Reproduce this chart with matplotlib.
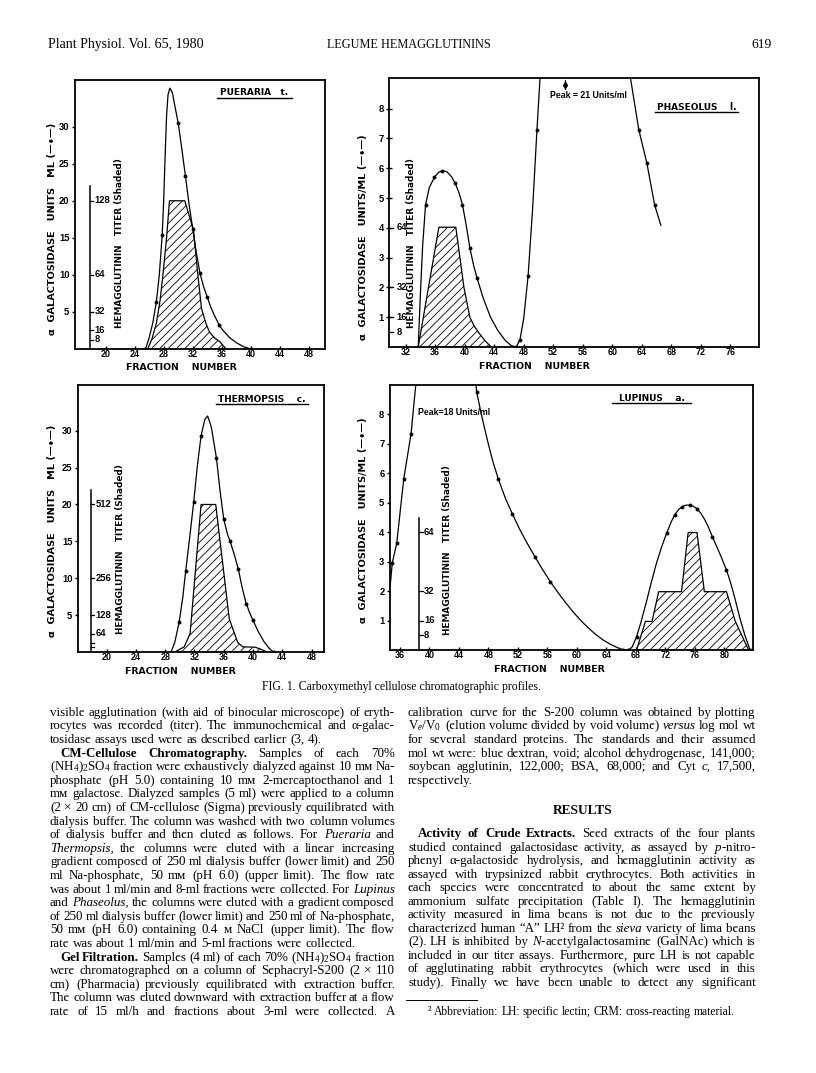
import matplotlib
matplotlib.use('Agg')
import matplotlib.pyplot as plt
from matplotlib.lines import Line2D
from matplotlib.transforms import IdentityTransform

W, H = 816, 1073

plt.rcParams['font.family'] = ['Liberation Sans', 'DejaVu Sans']
plt.rcParams['font.weight'] = 'bold'
plt.rcParams['text.hinting'] = 'native'
plt.rcParams['mathtext.fontset'] = 'custom'
plt.rcParams['mathtext.rm'] = 'Liberation Serif:weight=normal'
plt.rcParams['mathtext.it'] = 'Liberation Serif:style=italic:weight=normal'
plt.rcParams['mathtext.bf'] = 'Liberation Serif:weight=bold'
plt.rcParams['hatch.linewidth'] = 0.6

# ---------------- data ----------------
# Pueraria t.
pue_line_x = [25.5, 26.0, 26.5, 27.0, 27.4, 27.8, 28.0, 28.2, 28.4, 28.6, 28.85, 29.2, 29.6, 30.0,
              30.5, 31.0, 31.5, 32.0, 32.5, 33.0, 33.5, 34.0, 34.5, 35.0, 35.5, 36.0, 37.0, 38.0, 39.0, 40.0]
pue_line_y = [0, 1.5, 3.5, 6.4, 10.0, 15.4, 20.0, 26.0, 31.5, 34.3, 35.2, 34.6, 32.5, 30.5,
              27.0, 23.3, 19.5, 16.2, 13.0, 10.2, 8.4, 7.0, 5.6, 4.5, 3.5, 2.7, 1.6, 0.85, 0.3, 0]
pue_dot_x = [25.5, 27.0, 27.8, 30.0, 31.0, 32.0, 33.0, 34.0, 35.6, 40.0]
pue_dot_y = [0, 6.4, 15.4, 30.5, 23.3, 16.2, 10.2, 7.0, 3.3, 0]
pue_hatch_x = [25.8, 26.4, 27.0, 27.5, 27.9, 28.4, 28.8, 30.9, 32.1, 32.6, 33.2, 33.8, 34.3, 35.0, 35.7, 36.6]
pue_hatch_y = [0, 1.4, 3.5, 6.5, 10.0, 15.0, 20.0, 20.0, 16.1, 11.0, 5.5, 3.5, 2.3, 1.5, 1.0, 0]
pue_titers = [8, 16, 32, 64, 128]
pue_titer_ref = (128, 20)

# Phaseolus l.
pha_line_x = [33.7, 34.0, 34.3, 34.7, 35.2, 35.9, 36.5, 37.0, 37.6, 38.2, 38.7, 39.2, 39.7, 40.2,
              40.7, 41.2, 41.7, 42.5, 43.5, 44.5, 45.5, 46.3, 47.0, 47.5, 48.0, 48.6, 49.2, 49.8, 50.4]
pha_line_y = [0, 1.8, 3.4, 4.78, 5.35, 5.7, 5.87, 5.92, 5.88, 5.72, 5.5, 5.2, 4.78, 4.1,
              3.33, 2.75, 2.3, 1.65, 1.0, 0.55, 0.22, 0.05, 0, 0.25, 0.95, 2.4, 4.6, 7.3, 9.8]
pha_tail_x = [62.3, 63.6, 64.7, 65.75, 66.6]
pha_tail_y = [9.3, 7.3, 6.17, 4.77, 4.08]
pha_dot_x = [33.7, 34.7, 35.9, 36.9, 38.7, 39.7, 40.7, 41.7, 47.0, 47.5, 48.6, 49.8, 63.6, 64.7, 65.75]
pha_dot_y = [0, 4.78, 5.7, 5.9, 5.5, 4.78, 3.33, 2.3, 0, 0.25, 2.4, 7.3, 7.3, 6.17, 4.77]
pha_hatch_x = [33.7, 36.5, 38.8, 39.9, 40.7, 41.3, 42.0, 42.8, 43.6]
pha_hatch_y = [0, 4.02, 4.02, 2.0, 1.0, 0.7, 0.45, 0.2, 0]
pha_titers = [8, 16, 32, 64]
pha_titer_ref = (64, 4)
pha_peak = (53.6, 8.8)
pha_peak_label = 'Peak = 21 Units/ml'

# Thermopsis c.
the_line_x = [28.8, 29.3, 29.9, 30.4, 30.8, 31.4, 31.9, 32.4, 32.9, 33.4, 33.8, 34.3, 35.0, 35.5,
              36.0, 36.5, 37.0, 37.5, 38.0, 38.5, 39.0, 39.5, 40.0, 40.7, 41.5, 42.2, 42.8]
the_line_y = [0, 1.3, 4.0, 7.4, 11.0, 16.0, 20.4, 25.3, 29.3, 31.5, 32.0, 30.5, 26.3, 21.8,
              18.0, 16.0, 14.6, 13.0, 11.2, 8.8, 6.8, 5.4, 4.3, 2.8, 1.4, 0.5, 0]
the_dot_x = [29.9, 30.8, 31.9, 32.9, 35.0, 36.0, 36.9, 38.0, 39.1, 40.0, 42.8]
the_dot_y = [4.0, 11.0, 20.4, 29.3, 26.3, 18.0, 15.0, 11.2, 6.5, 4.3, 0]
the_hatch_x = [29.3, 30.6, 31.4, 32.9, 34.9, 36.75, 37.9, 38.6, 40.3, 41.0, 41.9]
the_hatch_y = [0, 0.7, 2.5, 20.0, 20.0, 4.5, 1.3, 0.7, 0.65, 0.4, 0]
the_titers = [64, 128, 256, 512]
the_titer_minor = [16, 32]
the_titer_ref = (512, 20)

# Lupinus a.
lup_rise_x = [34.64, 34.95, 35.55, 36.5, 37.5, 38.25]
lup_rise_y = [2.1, 2.96, 3.62, 5.8, 7.35, 9.3]
lup_line_x = [46.2, 46.4, 47.0, 47.5, 48.0, 48.6, 49.35, 50.3, 51.25, 52.2, 53.2, 54.3, 55.3, 56.4,
              57.5, 58.5, 59.5, 60.5, 61.5, 62.5, 63.5, 64.5, 65.5, 66.3, 67.0, 67.5, 68.1, 68.7,
              69.4, 70.1, 70.8, 71.5, 72.2, 72.8, 73.3, 73.8, 74.3, 74.8, 75.3, 75.8, 76.3, 76.8,
              77.3, 77.8, 78.4, 79.0, 79.6, 80.3, 80.9, 81.5, 82.1, 82.8, 83.5]
lup_line_y = [9.3, 8.76, 8.05, 7.5, 6.98, 6.4, 5.8, 5.15, 4.62, 4.12, 3.65, 3.17, 2.75, 2.32,
              1.93, 1.6, 1.29, 1.01, 0.76, 0.54, 0.35, 0.2, 0.08, 0.01, 0, 0.1, 0.45, 0.95,
              1.6, 2.3, 2.95, 3.5, 3.98, 4.35, 4.6, 4.77, 4.87, 4.92, 4.92, 4.88, 4.8, 4.65,
              4.45, 4.2, 3.84, 3.5, 3.15, 2.72, 2.25, 1.7, 1.1, 0.5, 0]
lup_dot_x = [34.95, 35.55, 36.5, 37.5, 46.4, 49.35, 51.25, 54.3, 56.4, 66.3, 67.0, 68.1,
             72.2, 73.3, 74.3, 75.3, 76.3, 78.4, 80.3, 83.5]
lup_dot_y = [2.96, 3.62, 5.8, 7.35, 8.76, 5.8, 4.62, 3.17, 2.32, 0.01, 0, 0.45,
             3.98, 4.6, 4.87, 4.92, 4.8, 3.84, 2.72, 0]
lup_hatch_x = [68.1, 69.3, 70.2, 71.1, 74.2, 75.1, 76.3, 77.3, 80.3, 81.5, 83.3]
lup_hatch_y = [0, 0.97, 0.97, 1.98, 1.98, 3.99, 3.99, 1.98, 1.98, 0.97, 0]
lup_titers = [8, 16, 32, 64]
lup_titer_ref = (64, 4)
lup_peak_label = 'Peak=18 Units/ml'

LABEL_FONT = ['DejaVu Sans']


def fx(x):
    return x / W


def fy(y):
    return 1 - y / H


fig = plt.figure(figsize=(W / 100, H / 100), dpi=100)
fig.patch.set_facecolor('white')


def panel(box, xlim, ylim, xticks, yticks):
    l, t, r, b = box
    ax = fig.add_axes([fx(l), fy(b), (r - l) / W, (b - t) / H])
    ax.set_xlim(*xlim)
    ax.set_ylim(*ylim)
    ax.set_xticks(xticks)
    ax.set_yticks(yticks)
    for s in ax.spines.values():
        s.set_linewidth(1.3)
    ax.tick_params(axis='y', direction='out', length=2.5, width=1, labelsize=6.8, pad=1.5)
    ax.tick_params(axis='x', direction='in', length=2, width=1, labelsize=6.5, pad=1.0)
    return ax


def curve(ax, xs, ys):
    ax.plot(xs, ys, color='black', lw=0.9, solid_capstyle='round')


def dots(ax, xs, ys):
    ax.plot(xs, ys, ls='none', marker='o', ms=1.8, color='black')


def hatched(ax, xs, ys):
    ax.fill(xs, ys, facecolor='none', edgecolor='black', hatch='////', lw=0.9)


def titer_axis(ax, xline, top, titers, ref, xlab, minor=()):
    scale = ref[1] / ref[0]
    if xline is not None:
        ax.plot([xline, xline], [0, top], color='black', lw=1.1, clip_on=False)
        x0 = xline
    else:
        x0 = ax.get_xlim()[0]
    dx = (ax.get_xlim()[1] - ax.get_xlim()[0]) * 0.012
    for tv in titers:
        ax.plot([x0, x0 + dx], [tv * scale, tv * scale], color='black', lw=0.9)
        ax.text(xlab, tv * scale, str(tv), fontsize=6.8, va='center', ha='left')
    for tv in minor:
        ax.plot([x0, x0 + dx], [tv * scale, tv * scale], color='black', lw=0.9)


def label_px(x, y, s, size=6.7, rot=0):
    fig.text(fx(x), fy(y), s, fontsize=size, rotation=rot, ha='center', va='center',
             family=LABEL_FONT)


def title_px(x0, x1, y, yline, s):
    label_px((x0 + x1) / 2, y, s, size=6.5)
    fig.add_artist(Line2D([fx(x0), fx(x1)], [fy(yline), fy(yline)], transform=fig.transFigure,
                          color='black', lw=1.0))


ALPHA_LBL = 'α  GALACTOSIDASE   UNITS   ML (—•—)'
ALPHA_LBL2 = 'α  GALACTOSIDASE   UNITS/ML (—•—)'
TITER_LBL = 'HEMAGGLUTININ   TITER (Shaded)'
X_LBL = 'FRACTION    NUMBER'

# ---- Pueraria ----
ax1 = panel((75, 80, 325, 349), (15.8, 50.2), (0, 36.3), range(20, 49, 4), range(5, 31, 5))
hatched(ax1, pue_hatch_x, pue_hatch_y)
curve(ax1, pue_line_x, pue_line_y)
dots(ax1, pue_dot_x, pue_dot_y)
titer_axis(ax1, 17.86, 22, pue_titers, pue_titer_ref, 18.5)
label_px(52, 229, ALPHA_LBL, size=7.0, rot=90)
label_px(119, 243, TITER_LBL, size=6.4, rot=90)
label_px(181, 367, X_LBL)
title_px(217, 292, 92, 98, 'PUERARIA   t.')

# ---- Phaseolus ----
ax2 = panel((389, 78, 759, 347), (29.74, 79.9), (0, 9.03), range(32, 77, 4), range(1, 9))
ax2.tick_params(axis='y', direction='inout', length=4)
hatched(ax2, pha_hatch_x, pha_hatch_y)
curve(ax2, pha_line_x, pha_line_y)
curve(ax2, pha_tail_x, pha_tail_y)
dots(ax2, pha_dot_x, pha_dot_y)
ax2.plot([pha_peak[0]], [pha_peak[1]], marker='d', ms=3.2, color='black')
ax2.plot([pha_peak[0], pha_peak[0]], [pha_peak[1] - 0.15, pha_peak[1] + 0.15], color='black', lw=0.8)
ax2.text(51.6, 8.44, pha_peak_label, fontsize=6.3, va='center', ha='left')
titer_axis(ax2, None, 0, pha_titers, pha_titer_ref, 30.75)
label_px(363, 237, ALPHA_LBL2, size=7.0, rot=90)
label_px(411, 243, TITER_LBL, size=6.4, rot=90)
label_px(534, 366, X_LBL)
title_px(655, 738, 107, 112, 'PHASEOLUS    l.')

# ---- Thermopsis ----
ax3 = panel((78, 385, 324, 652), (16.08, 49.7), (0, 36.2), range(20, 49, 4), range(5, 31, 5))
hatched(ax3, the_hatch_x, the_hatch_y)
curve(ax3, the_line_x, the_line_y)
dots(ax3, the_dot_x, the_dot_y)
titer_axis(ax3, 17.86, 21.9, the_titers, the_titer_ref, 18.5, the_titer_minor)
label_px(52, 531, ALPHA_LBL, size=7.0, rot=90)
label_px(120, 549, TITER_LBL, size=6.4, rot=90)
label_px(180, 671, X_LBL)
title_px(216, 308, 399, 404, 'THERMOPSIS    c.')

# ---- Lupinus ----
ax4 = panel((390, 385, 753, 650), (34.64, 83.9), (0, 9.0), range(36, 81, 4), range(1, 9))
hatched(ax4, lup_hatch_x, lup_hatch_y)
curve(ax4, lup_rise_x, lup_rise_y)
curve(ax4, lup_line_x, lup_line_y)
dots(ax4, lup_dot_x, lup_dot_y)
ax4.text(38.4, 8.08, lup_peak_label, fontsize=6.3, va='center', ha='left')
titer_axis(ax4, 38.57, 4.49, lup_titers, lup_titer_ref, 39.25)
label_px(363, 520, ALPHA_LBL2, size=7.0, rot=90)
label_px(447, 550, TITER_LBL, size=6.4, rot=90)
label_px(549, 669, X_LBL)
title_px(612, 691, 398, 403, 'LUPINUS    a.')

# ---------------- page text ----------------
SERIF = ['Liberation Serif', 'DejaVu Serif']
renderer = fig.canvas.get_renderer()


def parse(line):
    out = []
    for tok in line.split(' '):
        if tok.startswith('**'):
            out.append((tok.strip('*'), 'bold', 'normal'))
        elif tok.startswith('*'):
            out.append((tok.strip('*'), 'normal', 'italic'))
        else:
            out.append((tok, 'normal', 'normal'))
    return out


def put_line(line, x0, x1, y, size=9.4, justify=True, indent=0):
    arts = []
    for word, weight, style in parse(line):
        t = fig.text(0, 0, word, fontsize=size, family=SERIF, weight=weight, style=style,
                     transform=IdentityTransform(), ha='left', va='baseline')
        arts.append(t)
    widths = [t.get_window_extent(renderer).width for t in arts]
    start = x0 + indent
    gap = size * 100 / 72 * 0.25
    if justify and len(arts) > 1:
        gap = (x1 - start - sum(widths)) / (len(arts) - 1)
    xpos = start
    base = round(H - y)
    for t, w in zip(arts, widths):
        t.set_position((round(xpos), base))
        xpos += w + gap


fig.text(fx(48), fy(48), 'Plant Physiol. Vol. 65, 1980', fontsize=10, family=SERIF, weight='normal',
         ha='left', va='baseline')
fig.text(fx(409), fy(48), 'LEGUME HEMAGGLUTININS', fontsize=8.8, family=SERIF, weight='normal',
         ha='center', va='baseline')
fig.text(fx(772), fy(48), '619', fontsize=9.6, family=SERIF, weight='normal', ha='right', va='baseline')
fig.text(fx(401), fy(690), 'FIG. 1. Carboxymethyl cellulose chromatographic profiles.', fontsize=8.5,
         family=SERIF, weight='normal', ha='center', va='baseline')

left_lines = [
    ('visible agglutination (with aid of binocular microscope) of eryth-', True, 0),
    ('rocytes was recorded (titer). The immunochemical and α-galac-', True, 0),
    ('tosidase assays used were as described earlier (3, 4).', False, 0),
    ('**CM-Cellulose** **Chromatography.** Samples of each 70%', True, 10),
    ('(NH$_4$)$_2$SO$_4$ fraction were exhaustively dialyzed against 10 mм Na-', True, 0),
    ('phosphate (pH 5.0) containing 10 mм 2-mercaptoethanol and 1', True, 0),
    ('mм galactose. Dialyzed samples (5 ml) were applied to a column', True, 0),
    ('(2 × 20 cm) of CM-cellulose (Sigma) previously equilibrated with', True, 0),
    ('dialysis buffer. The column was washed with two column volumes', True, 0),
    ('of dialysis buffer and then eluted as follows. For *Pueraria* and', True, 0),
    ('*Thermopsis,* the columns were eluted with a linear increasing', True, 0),
    ('gradient composed of 250 ml dialysis buffer (lower limit) and 250', True, 0),
    ('ml Na-phosphate, 50 mм (pH 6.0) (upper limit). The flow rate', True, 0),
    ('was about 1 ml/min and 8-ml fractions were collected. For *Lupinus*', True, 0),
    ('and *Phaseolus,* the columns were eluted with a gradient composed', True, 0),
    ('of 250 ml dialysis buffer (lower limit) and 250 ml of Na-phosphate,', True, 0),
    ('50 mм (pH 6.0) containing 0.4 м NaCl (upper limit). The flow', True, 0),
    ('rate was about 1 ml/min and 5-ml fractions were collected.', False, 0),
    ('**Gel** **Filtration.** Samples (4 ml) of each 70% (NH$_4$)$_2$SO$_4$ fraction', True, 10),
    ('were chromatographed on a column of Sephacryl-S200 (2 × 110', True, 0),
    ('cm) (Pharmacia) previously equilibrated with extraction buffer.', True, 0),
    ('The column was eluted downward with extraction buffer at a flow', True, 0),
    ('rate of 15 ml/h and fractions about 3-ml were collected. A', True, 0),
]
for i, (txt, just, ind) in enumerate(left_lines):
    put_line(txt, 50, 395, 715.8 + i * 13.6, justify=just, indent=ind)

right_top = [
    ('calibration curve for the S-200 column was obtained by plotting', True, 0),
    ('V$_e$/V$_0$ (elution volume divided by void volume) *versus* log mol wt', True, 0),
    ('for several standard proteins. The standards and their assumed', True, 0),
    ('mol wt were: blue dextran, void; alcohol dehydrogenase, 141,000;', True, 0),
    ('soybean agglutinin, 122,000; BSA, 68,000; and Cyt *c,* 17,500,', True, 0),
    ('respectively.', False, 0),
]
for i, (txt, just, ind) in enumerate(right_top):
    put_line(txt, 408, 756, 715.8 + i * 13.6, justify=just, indent=ind)

fig.text(fx(583), fy(814.5), 'RESULTS', fontsize=9.6, family=SERIF, weight='bold', ha='center',
         va='baseline')

right_bottom = [
    ('**Activity** **of** **Crude** **Extracts.** Seed extracts of the four plants', True, 10),
    ('studied contained galactosidase activity, as assayed by $\\mathit{p}$-nitro-', True, 0),
    ('phenyl α-galactoside hydrolysis, and hemagglutinin activity as', True, 0),
    ('assayed with trypsinized rabbit erythrocytes. Both activities in', True, 0),
    ('each species were concentrated to about the same extent by', True, 0),
    ('ammonium sulfate precipitation (Table I). The hemagglutinin', True, 0),
    ('activity measured in lima beans is not due to the previously', True, 0),
    ('characterized human “A” LH² from the *sieva* variety of lima beans', True, 0),
    ('(2). LH is inhibited by $\\mathit{N}$-acetylgalactosamine (GalNAc) which is', True, 0),
    ('included in our titer assays. Furthermore, pure LH is not capable', True, 0),
    ('of agglutinating rabbit erythrocytes (which were used in this', True, 0),
    ('study). Finally we have been unable to detect any significant', True, 0),
]
for i, (txt, just, ind) in enumerate(right_bottom):
    put_line(txt, 408, 756, 837.5 + i * 13.48, justify=just, indent=ind)

fig.add_artist(Line2D([fx(406), fx(477)], [fy(999.5), fy(999.5)], transform=fig.transFigure,
                      color='black', lw=0.7))
put_line('² Abbreviation: LH: specific lectin; CRM: cross-reacting material.', 428, 756, 1015.5,
         size=8.4, justify=False)

fig.savefig('out.png', dpi=100, facecolor='white')
